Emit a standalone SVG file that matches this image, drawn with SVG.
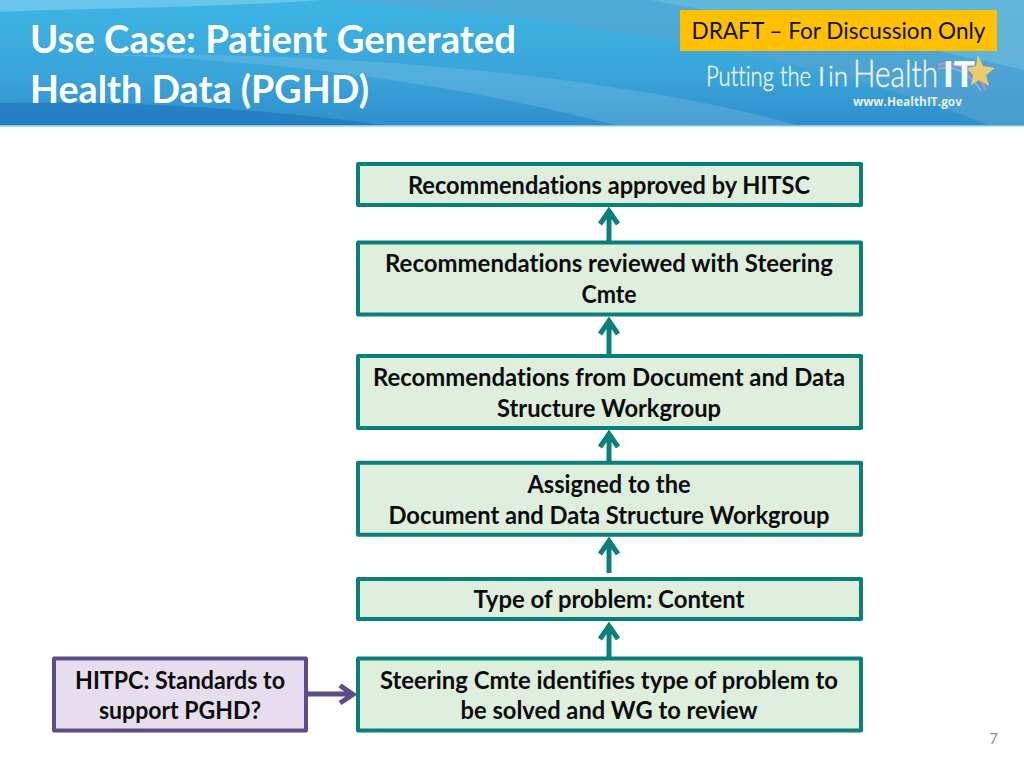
<svg xmlns="http://www.w3.org/2000/svg" width="1024" height="768" viewBox="0 0 1024 768">
<style>
text{font-family:"Lato","Open Sans","Liberation Sans",sans-serif;font-variant-ligatures:none}
.b{fill:#deefde;stroke:#0a7f7c;stroke-width:4;stroke-linejoin:round}
.t{font-weight:700;font-size:24px;fill:#0b0b0b;text-anchor:middle}
.h{font-weight:700;font-size:38px;fill:#fff}
.c{fill:none;stroke:#0a7f7c;stroke-width:5}
.p{fill:none;stroke:#5f4b85;stroke-width:5}
.l{font-weight:300;stroke:#f2f9fd;stroke-width:.35}
</style>
<defs>
<linearGradient id="bg" x1="0" y1="0" x2="0" y2="1"><stop offset="0" stop-color="#3cb5e4"/><stop offset="0.6" stop-color="#3aa4d9"/><stop offset="1" stop-color="#2f8fcd"/></linearGradient>
</defs>
<rect width="1024" height="768" fill="#fff"/>
<g id="banner">
<rect width="1024" height="126" fill="url(#bg)"/>
<path d="M0 0H320C210 8 90 8 0 12Z" fill="#8ed3ef" opacity=".55"/>
<path d="M320 0H1024V126H990C860 70 620 20 320 0Z" fill="#5aa4cf" opacity=".6"/>
<path d="M650 0H1024V70C900 40 760 20 650 0Z" fill="#6fbedb" opacity=".6"/>
<path d="M0 103C120 100 260 108 390 126H0Z" fill="#1f78bd" opacity=".7"/>
<path d="M100 55C300 60 480 90 620 126H800C640 80 360 50 100 55Z" fill="#8cc6e6" opacity=".3"/>
<rect y="125" width="1024" height="1.500" fill="#7cc4e4"/>
</g>
<g id="title">
<text class="h" x="30" y="53" textLength="486" lengthAdjust="spacingAndGlyphs">Use Case: Patient Generated</text>
<text class="h" x="30" y="103" textLength="339" lengthAdjust="spacingAndGlyphs">Health Data (PGHD)</text>
</g>
<g id="draft">
<rect x="680" y="10" width="317" height="41" fill="#ffc000"/>
<text x="838.5" y="39" font-size="24" fill="#111" text-anchor="middle" textLength="294" lengthAdjust="spacingAndGlyphs">DRAFT – For Discussion Only</text>
</g>
<g id="logo" fill="#f2f9fd">
<path d="M938 65C958 60 978 72 986 90" fill="none" stroke="#c98bb0" stroke-width="2.500"/>
<path d="M938 69C956 64 972 76 981 91" fill="none" stroke="#8fb0d8" stroke-width="2"/>
<text y="86" font-size="27"><tspan class="l" x="706" textLength="105" lengthAdjust="spacingAndGlyphs">Putting the</tspan><tspan x="819" font-weight="700" textLength="5" lengthAdjust="spacingAndGlyphs">I</tspan><tspan class="l" x="828" textLength="20" lengthAdjust="spacingAndGlyphs">in</tspan><tspan class="l" x="853" y="87" font-size="37" textLength="85" lengthAdjust="spacingAndGlyphs">Health</tspan><tspan x="943" y="87" font-size="36" font-weight="900" textLength="32" lengthAdjust="spacingAndGlyphs">IT</tspan></text>
<polygon points="978,55 983,66 995,68 986,75 989,86 979,80 971,85 973,75 967,68 976,66" fill="#eecb6a"/>
<text x="853" y="106" font-size="13" font-weight="700" fill="#e4f1f9" textLength="109" lengthAdjust="spacingAndGlyphs" style="font-family:'Open Sans',sans-serif">www.HealthIT.gov</text>
</g>
<g id="connectors">
<path class="c" d="M609 657V626M600 639L609 626L618 639"/>
<path class="c" d="M609 573V541M600 554L609 541L618 554"/>
<path class="c" d="M609 461V434M600 447L609 434L618 447"/>
<path class="c" d="M609 354V321M600 334L609 321L618 334"/>
<path class="c" d="M609 241V211M600 224L609 211L618 224"/>
<path class="p" d="M307 694H352M340 685.500L353 694.500L340 703"/>
</g>
<g id="n1"><rect class="b" x="358" y="164" width="503" height="41"/><text class="t" x="609" y="194" textLength="402" lengthAdjust="spacingAndGlyphs">Recommendations approved by HITSC</text></g>
<g id="n2"><rect class="b" x="358" y="242.500" width="503" height="72"/><text class="t" x="609" y="272" textLength="448" lengthAdjust="spacingAndGlyphs">Recommendations reviewed with Steering</text><text class="t" x="609" y="303" textLength="55" lengthAdjust="spacingAndGlyphs">Cmte</text></g>
<g id="n3"><rect class="b" x="358" y="356" width="503" height="72"/><text class="t" x="609" y="386" textLength="472" lengthAdjust="spacingAndGlyphs">Recommendations from Document and Data</text><text class="t" x="609" y="417" textLength="224" lengthAdjust="spacingAndGlyphs">Structure Workgroup</text></g>
<g id="n4"><rect class="b" x="358" y="462.700" width="503" height="72"/><text class="t" x="609" y="493" textLength="163" lengthAdjust="spacingAndGlyphs">Assigned to the</text><text class="t" x="609" y="524" textLength="441" lengthAdjust="spacingAndGlyphs">Document and Data Structure Workgroup</text></g>
<g id="n5"><rect class="b" x="358" y="579" width="503" height="40"/><text class="t" x="609" y="608" textLength="271" lengthAdjust="spacingAndGlyphs">Type of problem: Content</text></g>
<g id="n6"><rect class="b" x="358" y="658.500" width="503" height="72"/><text class="t" x="609" y="689" textLength="458" lengthAdjust="spacingAndGlyphs">Steering Cmte identifies type of problem to</text><text class="t" x="609" y="719" textLength="297" lengthAdjust="spacingAndGlyphs">be solved and WG to review</text></g>
<g id="n7"><rect x="54" y="658.500" width="252" height="72" fill="#e6deee" stroke="#5f4b85" stroke-width="4" stroke-linejoin="round"/><text class="t" x="180" y="689" textLength="210" lengthAdjust="spacingAndGlyphs">HITPC: Standards to</text><text class="t" x="180" y="719" textLength="162" lengthAdjust="spacingAndGlyphs">support PGHD?</text></g>
<text id="page" x="998" y="744" font-size="15" fill="#8a8a8a" text-anchor="end">7</text>
</svg>
